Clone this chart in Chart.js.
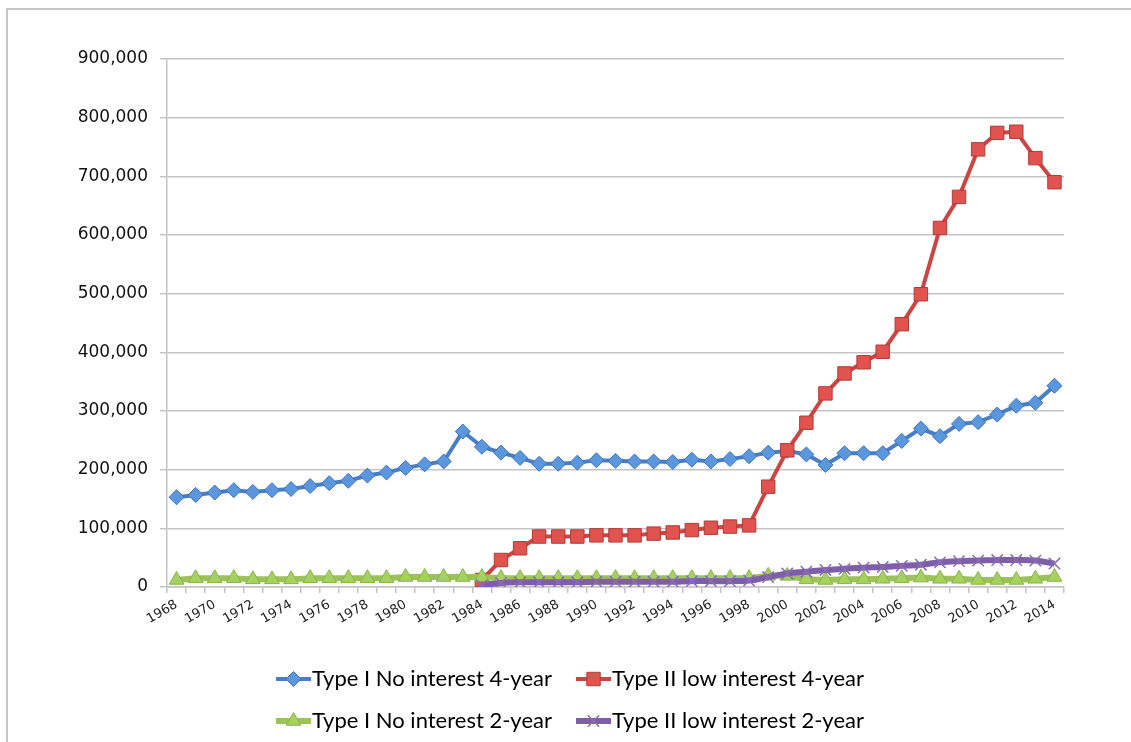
<!DOCTYPE html>
<html>
<head>
<meta charset="utf-8">
<style>
  html, body { margin: 0; padding: 0; background: #ffffff; overflow: hidden; }
  #wrap { position: relative; width: 1131px; height: 742px; }
  #frame { position: absolute; left: 6px; top: 8px; width: 1200px; height: 800px;
           border-left: 2px solid #c6c6c6; border-top: 2px solid #c6c6c6; }
  canvas { position: absolute; left: 0; top: 0; }
</style>
<script src="https://cdn.jsdelivr.net/npm/chart.js@4/dist/chart.umd.min.js"></script>
</head>
<body>
<div id="wrap">
  <div id="frame"></div>
  <canvas id="chart" width="1131" height="742"></canvas>
</div>
<script>
// Academic years on the category axis
const years = [
  '1968','1969','1970','1971','1972','1973','1974','1975','1976','1977',
  '1978','1979','1980','1981','1982','1983','1984','1985','1986','1987',
  '1988','1989','1990','1991','1992','1993','1994','1995','1996','1997',
  '1998','1999','2000','2001','2002','2003','2004','2005','2006','2007',
  '2008','2009','2010','2011','2012','2013','2014'
];

// Years that carry a printed tick label
const shownYears = [
  '1968','1970','1972','1974','1976','1978','1980','1982','1984','1986',
  '1988','1990','1992','1994','1996','1998','2000','2002','2004','2006',
  '2008','2010','2012','2014'
];

const seriesNames = [
  'Type I No interest 4-year',
  'Type II low interest 4-year',
  'Type I No interest 2-year',
  'Type II low interest 2-year'
];

const typeINoInterest4yr = [
  153000, 157000, 161000, 165000, 162000, 165000, 167000, 172000, 177000, 181000,
  190000, 195000, 203000, 209000, 214000, 265000, 239000, 229000, 220000, 210000,
  210000, 212000, 216000, 215000, 214000, 214000, 213000, 217000, 214000, 218000,
  223000, 229000, 232000, 226000, 208000, 228000, 228000, 228000, 249000, 270000,
  257000, 278000, 281000, 294000, 309000, 314000, 343000
];

const typeIILowInterest4yr = [
  null, null, null, null, null, null, null, null, null, null,
  null, null, null, null, null, null, 12000, 46000, 66000, 86000,
  86000, 86000, 88000, 88000, 88000, 91000, 93000, 97000, 101000, 103000,
  105000, 171000, 233000, 280000, 330000, 364000, 383000, 401000, 448000, 499000,
  612000, 665000, 746000, 774000, 776000, 731000, 690000
];

const typeINoInterest2yr = [
  12000, 15000, 15000, 15000, 13000, 13000, 13000, 15000, 15000, 15000,
  15000, 15000, 17000, 17000, 17000, 17000, 17000, 15000, 15000, 15000,
  15000, 15000, 15000, 15000, 15000, 15000, 15000, 15000, 15000, 15000,
  15000, 19000, 19000, 13000, 12000, 13000, 13000, 14000, 15000, 16000,
  14000, 14000, 12000, 12000, 12000, 14000, 17000
];

const typeIILowInterest2yr = [
  null, null, null, null, null, null, null, null, null, null,
  null, null, null, null, null, null, 3000, 7000, 8000, 8000,
  8000, 8000, 9000, 9000, 9000, 9000, 9000, 10000, 10000, 10000,
  11000, 17000, 23000, 26000, 29000, 31000, 33000, 34000, 36000, 38000,
  42000, 44000, 45000, 46000, 46000, 45000, 40000
];

const yTickValues = [0, 100000, 200000, 300000, 400000, 500000, 600000, 700000, 800000, 900000];

const gridGray = '#c4c4c4';

// Two-by-two legend below the plot, each key a short line with its marker
const pairedLegend = {
  id: 'pairedLegend',
  afterDraw(chart) {
    const ctx = chart.ctx;
    const cols = [276, 576];
    const rows = [679, 721];
    const keyLen = 35;
    chart.data.datasets.forEach((d, i) => {
      const x = cols[i % 2];
      const y = rows[Math.floor(i / 2)];
      ctx.save();
      ctx.lineCap = 'butt';
      ctx.strokeStyle = d.borderColor;
      ctx.lineWidth = d.borderWidth;
      ctx.beginPath();
      ctx.moveTo(x, y);
      ctx.lineTo(x + keyLen, y);
      ctx.stroke();
      ctx.fillStyle = d.pointBackgroundColor;
      ctx.strokeStyle = d.pointBorderColor;
      ctx.lineWidth = d.pointBorderWidth;
      Chart.helpers.drawPoint(ctx, {
        pointStyle: d.pointStyle,
        radius: d.pointRadius,
        borderWidth: d.pointBorderWidth,
        rotation: 0
      }, x + keyLen / 2, y);
      ctx.fillStyle = '#000000';
      ctx.font = '22px Lato, "Open Sans", sans-serif';
      ctx.textAlign = 'left';
      ctx.textBaseline = 'middle';
      ctx.fillText(d.label, x + keyLen + 1, y);
      ctx.restore();
    });
  }
};

new Chart(document.getElementById('chart'), {
  type: 'line',
  data: {
    labels: years,
    datasets: [
      {
        label: seriesNames[0],
        data: typeINoInterest4yr,
        borderColor: '#4a7ec4',
        borderWidth: 4,
        pointStyle: 'rectRot',
        pointRadius: 7.5,
        pointBackgroundColor: '#5b97de',
        pointBorderColor: '#3f73b6',
        pointBorderWidth: 1,
        tension: 0,
        order: 4
      },
      {
        label: seriesNames[1],
        data: typeIILowInterest4yr,
        borderColor: '#cc4542',
        borderWidth: 4,
        pointStyle: 'rect',
        pointRadius: 9.5,
        pointBackgroundColor: '#e0534f',
        pointBorderColor: '#b33a37',
        pointBorderWidth: 1,
        tension: 0,
        order: 3
      },
      {
        label: seriesNames[2],
        data: typeINoInterest2yr,
        borderColor: '#9cc35a',
        borderWidth: 6,
        pointStyle: 'triangle',
        pointRadius: 8.5,
        pointBackgroundColor: '#a5d25e',
        pointBorderColor: '#8ab34a',
        pointBorderWidth: 1,
        tension: 0,
        order: 2
      },
      {
        label: seriesNames[3],
        data: typeIILowInterest2yr,
        borderColor: '#7e5ea8',
        borderWidth: 6,
        pointStyle: 'crossRot',
        pointRadius: 8,
        pointBackgroundColor: '#7e5ea8',
        pointBorderColor: '#8a6bb5',
        pointBorderWidth: 1.5,
        tension: 0.4,
        order: 1
      }
    ]
  },
  options: {
    responsive: false,
    animation: false,
    layout: { padding: { top: 59, right: 67, bottom: 95, left: 0 } },
    plugins: {
      legend: { display: false },
      tooltip: { enabled: false }
    },
    scales: {
      x: {
        type: 'category',
        offset: true,
        afterFit(scale) { scale.height = 60; },
        grid: {
          offset: true,
          drawOnChartArea: false,
          drawTicks: true,
          tickLength: 6,
          color: gridGray,
          lineWidth: 1.5
        },
        border: { display: true, color: gridGray, width: 1.5 },
        ticks: {
          autoSkip: false,
          minRotation: 30,
          maxRotation: 30,
          padding: 4,
          color: '#222222',
          font: { family: '"DejaVu Sans", Verdana, sans-serif', size: 13 },
          callback(value, index) {
            const y = years[index];
            return shownYears.includes(y) ? y : '';
          }
        }
      },
      y: {
        min: 0,
        max: 900000,
        afterFit(scale) { scale.width = 167; },
        afterBuildTicks(scale) { scale.ticks = yTickValues.map(v => ({ value: v })); },
        grid: {
          color: gridGray,
          lineWidth: 1.5,
          drawTicks: true,
          tickLength: 7
        },
        border: { display: true, color: gridGray, width: 1.5 },
        ticks: {
          padding: 12,
          color: '#111111',
          font: { family: '"DejaVu Sans", Verdana, sans-serif', size: 17 },
          callback(value) { return value.toLocaleString('en-US'); }
        }
      }
    }
  },
  plugins: [pairedLegend]
});
</script>
</body>
</html>
